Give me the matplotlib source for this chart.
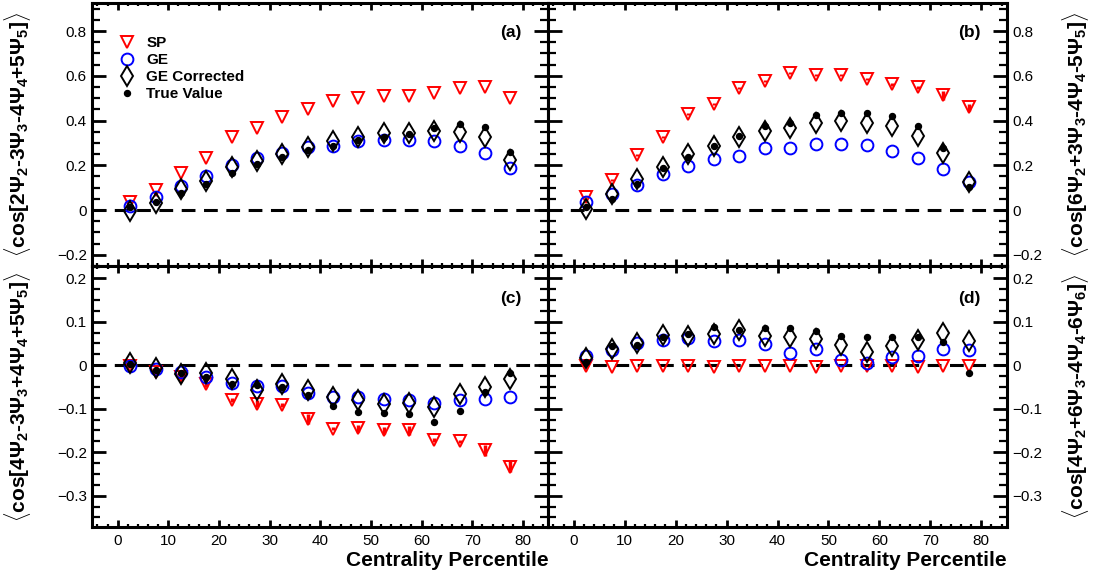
import matplotlib.pyplot as plt
from matplotlib.ticker import MultipleLocator, FuncFormatter

plt.rcParams['font.family'] = ['Liberation Sans', 'DejaVu Sans']
plt.rcParams['mathtext.fontset'] = 'custom'
plt.rcParams['mathtext.rm'] = 'Liberation Sans:bold'
plt.rcParams['mathtext.it'] = 'Liberation Sans:bold'
plt.rcParams['mathtext.bf'] = 'Liberation Sans:bold'

# centrality bin centres
centrality = [2.5, 7.5, 12.5, 17.5, 22.5, 27.5, 32.5, 37.5,
              42.5, 47.5, 52.5, 57.5, 62.5, 67.5, 72.5, 77.5]

# panel (a)
a_sp = [0.034, 0.089, 0.167, 0.231, 0.325, 0.365, 0.414, 0.453,
        0.489, 0.499, 0.509, 0.509, 0.521, 0.544, 0.551, 0.499]
a_ge = [0.019, 0.057, 0.107, 0.153, 0.201, 0.232, 0.253, 0.280,
        0.288, 0.308, 0.313, 0.313, 0.308, 0.288, 0.253, 0.186]
a_gec = [-0.003, 0.030, 0.092, 0.131, 0.194, 0.220, 0.250, 0.283,
         0.310, 0.328, 0.343, 0.346, 0.355, 0.350, 0.328, 0.223]
a_true = [0.012, 0.037, 0.077, 0.116, 0.167, 0.206, 0.238, 0.268,
          0.286, 0.313, 0.328, 0.340, 0.365, 0.384, 0.369, 0.261]

# panel (b)
b_sp = [0.060, 0.134, 0.246, 0.328, 0.428, 0.474, 0.544, 0.578,
        0.611, 0.603, 0.603, 0.584, 0.562, 0.548, 0.514, 0.459]
b_ge = [0.034, 0.070, 0.112, 0.161, 0.197, 0.226, 0.243, 0.276,
        0.277, 0.295, 0.295, 0.289, 0.265, 0.231, 0.182, 0.127]
b_gec = [0.003, 0.070, 0.137, 0.194, 0.250, 0.288, 0.328, 0.353,
         0.368, 0.390, 0.399, 0.390, 0.375, 0.332, 0.253, 0.127]
b_true = [0.015, 0.048, 0.116, 0.186, 0.235, 0.288, 0.331, 0.377,
          0.390, 0.423, 0.432, 0.432, 0.420, 0.375, 0.276, 0.104]

# panel (c)
c_sp = [-0.002, -0.015, -0.028, -0.043, -0.080, -0.089, -0.091, -0.124,
        -0.146, -0.145, -0.150, -0.150, -0.172, -0.175, -0.196, -0.233]
c_ge = [-0.002, -0.009, -0.015, -0.028, -0.041, -0.048, -0.047, -0.064,
        -0.072, -0.074, -0.077, -0.080, -0.087, -0.081, -0.078, -0.072]
c_gec = [0.006, -0.007, -0.021, -0.017, -0.032, -0.058, -0.043, -0.058,
         -0.072, -0.080, -0.089, -0.086, -0.095, -0.066, -0.051, -0.032]
c_true = [0.003, -0.012, -0.017, -0.026, -0.043, -0.045, -0.049, -0.068,
          -0.093, -0.107, -0.110, -0.113, -0.130, -0.106, -0.061, -0.017]

# panel (d)
d_sp = [-0.002, -0.003, -0.002, -0.002, -0.002, -0.003, -0.002, -0.002,
        -0.002, -0.003, -0.002, -0.002, -0.002, -0.003, -0.002, -0.002]
d_ge = [0.021, 0.034, 0.052, 0.058, 0.062, 0.056, 0.057, 0.048,
        0.029, 0.037, 0.012, 0.005, 0.018, 0.021, 0.038, 0.035]
d_gec = [0.016, 0.037, 0.051, 0.070, 0.067, 0.072, 0.081, 0.067,
         0.066, 0.061, 0.047, 0.030, 0.044, 0.058, 0.075, 0.056]
d_true = [0.008, 0.044, 0.047, 0.064, 0.072, 0.089, 0.080, 0.085,
          0.085, 0.079, 0.067, 0.064, 0.064, 0.064, 0.054, -0.017]

# statistical errors (only the visible ones)
b_sp_err = [0.004, 0.004, 0.004, 0.004, 0.004, 0.004, 0.004, 0.004,
            0.004, 0.004, 0.004, 0.005, 0.006, 0.008, 0.020, 0.015]
c_sp_err = [0.004, 0.010, 0.008, 0.008, 0.004, 0.008, 0.004, 0.012,
            0.004, 0.008, 0.008, 0.010, 0.004, 0.004, 0.012, 0.012]
c_true_err = [0.002, 0.002, 0.002, 0.002, 0.002, 0.002, 0.002, 0.003,
              0.005, 0.005, 0.005, 0.005, 0.005, 0.005, 0.003, 0.003]

ylabels = [r'$\langle$cos[2$\Psi_{2}$-3$\Psi_{3}$-4$\Psi_{4}$+5$\Psi_{5}$]$\rangle$',
           r'$\langle$cos[6$\Psi_{2}$+3$\Psi_{3}$-4$\Psi_{4}$-5$\Psi_{5}$]$\rangle$',
           r'$\langle$cos[4$\Psi_{2}$-3$\Psi_{3}$+4$\Psi_{4}$+5$\Psi_{5}$]$\rangle$',
           r'$\langle$cos[4$\Psi_{2}$+6$\Psi_{3}$-4$\Psi_{4}$-6$\Psi_{6}$]$\rangle$']


def fmt_tick(v, pos):
    if abs(v) < 1e-9:
        return '0'
    return f'{v:.1f}'.replace('-', '\u2212')


fig = plt.figure(figsize=(10.95, 5.83), dpi=100)

x0, xm, x1 = 0.0843, 0.5007, 0.9194
y0, ym, y1 = 0.0961, 0.5429, 0.9943
boxes = [[x0, ym, xm - x0, y1 - ym], [xm, ym, x1 - xm, y1 - ym],
         [x0, y0, xm - x0, ym - y0], [xm, y0, x1 - xm, ym - y0]]

panels = [(a_sp, a_ge, a_gec, a_true, None, None),
          (b_sp, b_ge, b_gec, b_true, b_sp_err, None),
          (c_sp, c_ge, c_gec, c_true, c_sp_err, c_true_err),
          (d_sp, d_ge, d_gec, d_true, None, None)]
tags = ['(a)', '(b)', '(c)', '(d)']

for i, (sp, ge, gec, true, sp_err, true_err) in enumerate(panels):
    ax = fig.add_axes(boxes[i])
    top = i < 2
    right = i % 2 == 1

    ax.axhline(0, color='k', lw=2.2, ls=(0, (4.5, 2.8)), zorder=1)

    if sp_err is not None:
        ax.errorbar(centrality, sp, yerr=sp_err, fmt='none', ecolor='red',
                    elinewidth=2.5, capsize=0, zorder=2)
    ax.plot(centrality, sp, 'v', mfc='none', mec='red', ms=8.5, mew=1.4,
            label='SP', zorder=3)
    ax.plot(centrality, ge, 'o', mfc='none', mec='blue', ms=8.5, mew=1.4,
            label='GE', zorder=3)
    ax.plot(centrality, gec, 'd', mfc='none', mec='black', ms=10.5, mew=1.4,
            label='GE Corrected', zorder=4)
    if true_err is not None:
        ax.errorbar(centrality, true, yerr=true_err, fmt='none', ecolor='black',
                    elinewidth=2.5, capsize=0, zorder=4)
    ax.plot(centrality, true, 'o', color='black', ms=4.3,
            label='True Value', zorder=5)

    ax.set_xlim(-5, 85)
    if top:
        ax.set_ylim(-0.2525, 0.924)
        ax.yaxis.set_major_locator(MultipleLocator(0.2))
        ax.yaxis.set_minor_locator(MultipleLocator(0.05))
    else:
        ax.set_ylim(-0.372, 0.227)
        ax.yaxis.set_major_locator(MultipleLocator(0.1))
        ax.yaxis.set_minor_locator(MultipleLocator(0.025))
    ax.xaxis.set_major_locator(MultipleLocator(10))
    ax.xaxis.set_minor_locator(MultipleLocator(2))
    ax.yaxis.set_major_formatter(FuncFormatter(fmt_tick))

    for s in ax.spines.values():
        s.set_linewidth(2.2)
    ax.tick_params(axis='y', which='major', direction='in', length=10, width=2,
                   left=True, right=True, labelsize=11, pad=4,
                   labelleft=not right, labelright=right)
    ax.tick_params(axis='y', which='minor', direction='in', length=5.5, width=1.6,
                   left=True, right=True)
    ax.tick_params(axis='x', which='major', direction='in', length=5, width=2,
                   top=True, bottom=True, labelsize=11, pad=5,
                   labelbottom=not top)
    ax.tick_params(axis='x', which='minor', direction='in', length=2.5, width=1.6,
                   top=True, bottom=True)

    ax.text(0.942, 0.891 if top else 0.877, tags[i], transform=ax.transAxes,
            ha='right', va='center', fontsize=12.5, fontweight='bold')

    if not top:
        ax.set_xlabel('Centrality Percentile', fontsize=15, fontweight='bold',
                      loc='right', labelpad=2)

    if i == 0:
        ax.legend(loc='upper left', bbox_to_anchor=(0.06, 0.875), frameon=False,
                  prop={'weight': 'bold', 'size': 11}, handlelength=1.0,
                  handletextpad=0.75, labelspacing=0.2, borderpad=0,
                  borderaxespad=0)

    yc = (boxes[i][1] + boxes[i][3] / 2)
    fig.text(0.982 if right else 0.016, yc, ylabels[i], rotation=90,
             ha='center', va='center', fontsize=15, fontweight='bold')

fig.savefig('out.png', dpi=100)
